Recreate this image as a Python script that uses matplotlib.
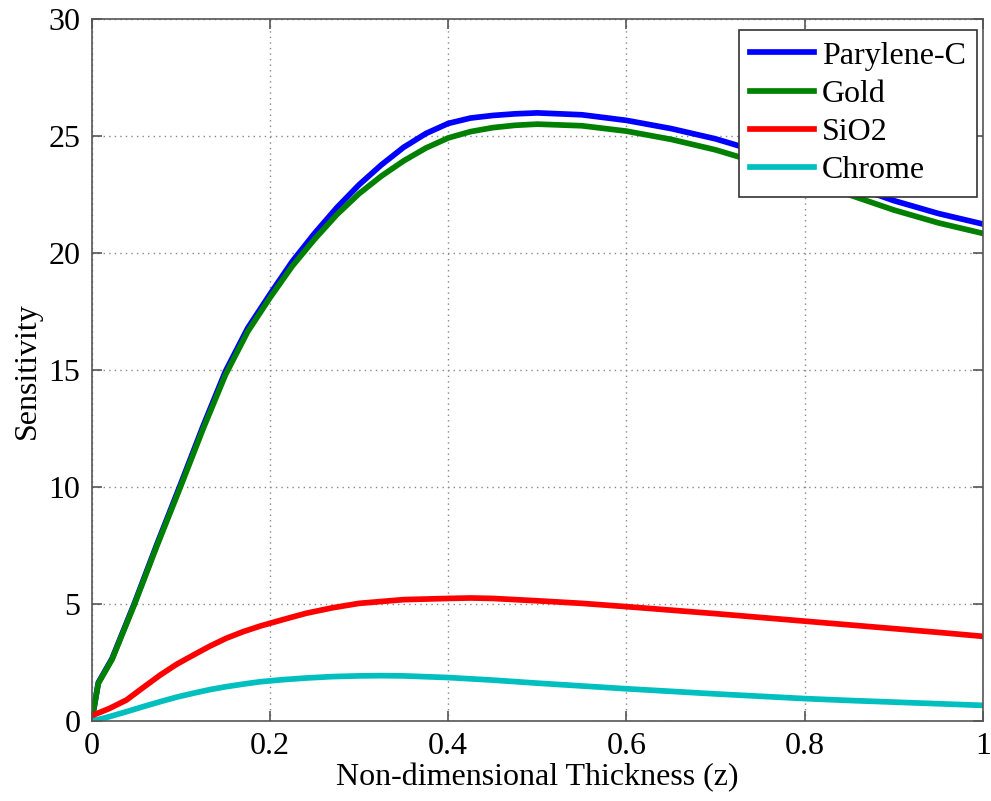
import matplotlib
matplotlib.use("Agg")
import matplotlib.pyplot as plt

plt.rcParams['font.family'] = ['Liberation Serif', 'DejaVu Serif']

# Parylene-C and Gold (shared thickness samples)
pg_x = [0, 0.0074, 0.0228, 0.048, 0.073, 0.0994, 0.125, 0.15, 0.175, 0.2, 0.225, 0.25,
        0.275, 0.3, 0.325, 0.35, 0.375, 0.4, 0.425, 0.45, 0.475, 0.5, 0.55, 0.6, 0.65,
        0.7, 0.75, 0.8, 0.85, 0.9, 0.95, 1.0]
par_y = [0, 1.65, 2.68, 5.05, 7.55, 10.1, 12.62, 14.95, 16.8, 18.25, 19.65, 20.85,
         21.95, 22.93, 23.78, 24.53, 25.12, 25.55, 25.78, 25.89, 25.96, 26.0, 25.92, 25.68, 25.33,
         24.89, 24.32, 23.65, 22.92, 22.25, 21.7, 21.25]
gold_y = [0, 1.62, 2.64, 5.0, 7.48, 10.0, 12.5, 14.8, 16.65, 18.1, 19.45, 20.6,
          21.65, 22.55, 23.3, 23.95, 24.5, 24.93, 25.2, 25.37, 25.47, 25.52, 25.45, 25.22, 24.87,
          24.42, 23.85, 23.2, 22.5, 21.85, 21.3, 20.85]
# SiO2
sio2_x = [0, 0.002, 0.02, 0.039, 0.058, 0.077, 0.095, 0.114, 0.132, 0.151, 0.17, 0.189,
          0.215, 0.241, 0.27, 0.3, 0.35, 0.4, 0.425, 0.45, 0.5, 0.55, 0.6, 0.65, 0.7,
          0.75, 0.8, 0.85, 0.9, 0.95, 1.0]
sio2_y = [0.1, 0.27, 0.55, 0.91, 1.45, 1.98, 2.43, 2.83, 3.2, 3.55, 3.83, 4.07,
          4.35, 4.62, 4.85, 5.04, 5.2, 5.25, 5.27, 5.25, 5.15, 5.04, 4.9, 4.75, 4.6,
          4.44, 4.28, 4.12, 3.96, 3.8, 3.63]
# Chrome
chr_x = [0, 0.02, 0.039, 0.058, 0.077, 0.095, 0.114, 0.132, 0.151, 0.17, 0.189, 0.215,
         0.241, 0.27, 0.3, 0.325, 0.35, 0.4, 0.45, 0.5, 0.55, 0.6, 0.65, 0.7, 0.75,
         0.8, 0.85, 0.9, 0.95, 1.0]
chr_y = [0, 0.2, 0.41, 0.63, 0.84, 1.03, 1.2, 1.35, 1.48, 1.59, 1.69, 1.78,
         1.85, 1.91, 1.94, 1.95, 1.94, 1.87, 1.76, 1.63, 1.51, 1.39, 1.28, 1.17, 1.07,
         0.97, 0.89, 0.82, 0.75, 0.68]

labels = ['Parylene-C', 'Gold', 'SiO2', 'Chrome']
colors = ['#0000ff', '#008000', '#ff0000', '#00bfbf']

xticks = [0, 0.2, 0.4, 0.6, 0.8, 1]
xticklabels = ['0', '0.2', '0.4', '0.6', '0.8', '1']
yticks = [0, 5, 10, 15, 20, 25, 30]

W, H = 991, 801
fig = plt.figure(figsize=(W / 100, H / 100), dpi=100)
ax = fig.add_axes([91.7 / W, 1 - 721.3 / H, (983 - 91.7) / W, (721.3 - 19.3) / H])

series = [(pg_x, par_y), (pg_x, gold_y), (sio2_x, sio2_y), (chr_x, chr_y)]
for (x, y), lab, c in zip(series, labels, colors):
    ax.plot(x, y, color=c, lw=4.1, label=lab, solid_joinstyle='round')

ax.set_xlim(0, 1)
ax.set_ylim(0, 30)
ax.set_xticks(xticks)
ax.set_xticklabels(xticklabels)
ax.set_yticks(yticks)
ax.tick_params(direction='in', length=7, width=1.2, color='#555555', labelsize=23,
               top=True, right=True, pad=8)
ax.grid(True, linestyle=(0, (1, 3)), color='#888888', linewidth=1)
for s in ax.spines.values():
    s.set_color('#555555')
    s.set_linewidth(1.2)

ax.set_xlabel('Non-dimensional Thickness (z)', fontsize=23, labelpad=1)
ax.set_ylabel('Sensitivity', fontsize=23, labelpad=5)

leg = ax.legend(loc='upper right', fontsize=23, frameon=True, fancybox=False,
                framealpha=1, edgecolor='#333333',
                bbox_to_anchor=(977 / W, 1 - 30 / H), bbox_transform=fig.transFigure,
                borderaxespad=0, handlelength=2.0, handletextpad=0.25,
                labelspacing=0.28, borderpad=0.35)
leg.get_frame().set_linewidth(1.2)

fig.savefig('out.png', dpi=100)
